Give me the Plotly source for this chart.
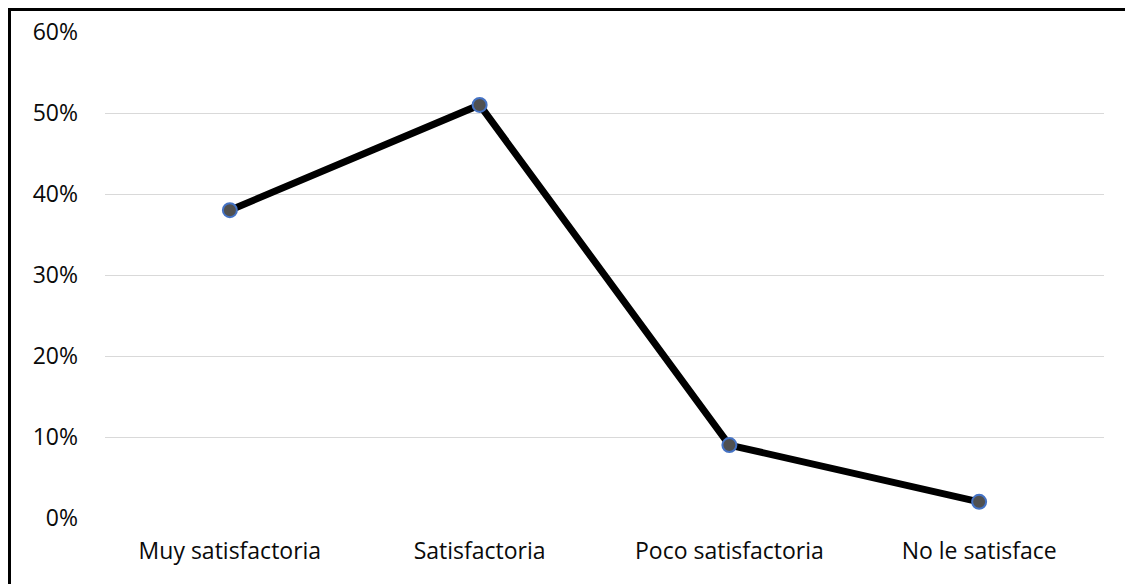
import plotly.graph_objects as go

categories = ["Muy satisfactoria", "Satisfactoria", "Poco satisfactoria", "No le satisface"]
values = [0.38, 0.51, 0.09, 0.02]
y_ticks = [0, 0.1, 0.2, 0.3, 0.4, 0.5, 0.6]
y_tick_labels = ["0%", "10%", "20%", "30%", "40%", "50%", "60%"]

# page body has an 8px margin; figure size compensates
W, H = 1125, 576
ml, mr, mt, mb = 97, 29, 24, 66
pw, ph = W - ml - mr, H - mt - mb

fig = go.Figure()
fig.add_trace(go.Scatter(
    x=categories, y=values, mode="lines+markers",
    line=dict(color="black", width=7),
    marker=dict(size=14, color="#505050", line=dict(color="#4472C4", width=2)),
    showlegend=False, cliponaxis=False,
))

font = dict(family="'Open Sans', sans-serif", size=23, color="#0a0a0a")
fig.update_layout(
    width=W, height=H,
    margin=dict(l=ml, r=mr, t=mt, b=mb, autoexpand=False),
    paper_bgcolor="white", plot_bgcolor="white",
    font=font,
    xaxis=dict(showgrid=False, showline=False, zeroline=False, ticks="",
               range=[-0.5, 3.5], automargin=False,
               ticklabelstandoff=17, tickfont=font),
    yaxis=dict(range=[0, 0.6], tickvals=y_ticks, ticktext=y_tick_labels,
               showgrid=True, gridcolor="#d9d9d9", gridwidth=1,
               zeroline=False, showline=False, ticks="", automargin=False,
               ticklabelstandoff=26, tickfont=font),
    shapes=[
        dict(type="rect", xref="paper", yref="paper",
             x0=(1.5 - ml) / pw, x1=(W + 20 - ml) / pw,
             y0=1 + (mt - 1.5) / ph, y1=-(mb + 20) / ph,
             line=dict(color="black", width=3), fillcolor="rgba(0,0,0,0)",
             layer="above"),
    ],
)

fig.write_html("out.html")
